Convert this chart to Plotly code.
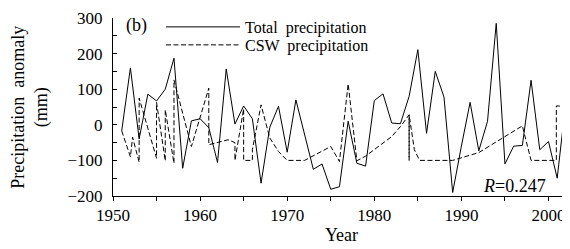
import plotly.graph_objects as go

years = [1951, 1952, 1953, 1954, 1955, 1956, 1957, 1958, 1959, 1960,
         1961, 1962, 1963, 1964, 1965, 1966, 1967, 1968, 1969, 1970,
         1971, 1972, 1973, 1974, 1975, 1976, 1977, 1978, 1979, 1980,
         1981, 1982, 1983, 1984, 1985, 1986, 1987, 1988, 1989, 1990,
         1991, 1992, 1993, 1994, 1995, 1996, 1997, 1998, 1999, 2000,
         2001, 2002]
total_precip = [-17, 160, -40, 86, 67, 100, 187, -122, 11, 17,
                -8, -106, 157, 2, 53, 17, -164, -7, 52, -77,
                70, -30, -125, -110, -181, -174, 10, -108, -116, 68,
                87, 5, 3, 80, 211, -24, 150, 78, -190, -60,
                63, -73, 10, 285, -110, -60, -58, 125, -70, -47,
                -150, 66]

csw_x = [1951, 1952, 1952.25, 1953, 1953, 1955, 1955, 1956, 1956, 1957,
         1957, 1959, 1961, 1961, 1963.2, 1964, 1964, 1965, 1965, 1966,
         1966, 1967, 1968, 1969, 1970, 1972, 1975, 1976, 1977, 1978,
         1979, 1980, 1981, 1982, 1983, 1984, 1984, 1984, 1984.6, 1985.2,
         1989, 1992, 1997, 1998, 2000.9, 2000.9, 2002]
csw_precip = [-17, -90, -35, -105, 75, -94, 63, -101, 42, -108,
              126, -61, 103, -56, -42, -50, -100, 45, -100, -100,
              -70, 56, -37, -75, -100, -100, -61, -103, 115, -101,
              -88, -70, -52, -33, -5, 28, -100, 28, -70, -100,
              -100, -78, -3, -100, -100, 53, 52]

FONT = "Times New Roman, Liberation Serif, DejaVu Serif, serif"

fig = go.Figure()
fig.add_trace(go.Scatter(x=years, y=total_precip, mode="lines",
                         name="Total  precipitation", legend="legend",
                         line=dict(color="black", width=1)))
fig.add_trace(go.Scatter(x=csw_x, y=csw_precip, mode="lines",
                         name="CSW  precipitation", legend="legend2",
                         line=dict(color="black", width=1, dash="5px,2.5px")))

leg_common = dict(xanchor="left", yanchor="top", bgcolor="rgba(0,0,0,0)",
                  font=dict(size=16, family=FONT), itemwidth=74)

# page body has an 8px default margin, so the figure is 8px smaller each way
fig.update_layout(
    width=562, height=241,
    margin=dict(l=105, r=0, t=10, b=53, autoexpand=False),
    paper_bgcolor="white", plot_bgcolor="white",
    font=dict(family=FONT, size=16, color="black"),
    showlegend=True,
    legend=dict(x=0.105, y=1.045, **leg_common),
    legend2=dict(x=0.105, y=0.944, **leg_common),
    xaxis=dict(range=[1950, 2002.47], showgrid=False, zeroline=False,
               automargin=False,
               showline=True, linecolor="black", linewidth=1,
               ticks="outside", ticklen=4, tickcolor="black",
               dtick=10, tick0=1950,
               minor=dict(dtick=5, ticks="outside", ticklen=4, tickcolor="black"),
               tickfont=dict(size=17, family=FONT),
               title=dict(text="Year", font=dict(size=18, family=FONT), standoff=2)),
    yaxis=dict(range=[-200, 300], showgrid=False, zeroline=False,
               automargin=False,
               showline=True, linecolor="black", linewidth=1,
               ticks="inside", ticklen=4, tickcolor="black",
               dtick=100, tick0=0,
               minor=dict(dtick=50, ticks="inside", ticklen=4, tickcolor="black"),
               tickfont=dict(size=17, family=FONT),
               ticklabelstandoff=6),
)

fig.add_annotation(text="Precipitation  anomaly<br>(mm)", textangle=-90,
                   xref="paper", yref="paper", x=-0.182, y=0.5,
                   xanchor="center", yanchor="middle", showarrow=False,
                   font=dict(size=18, family=FONT))
fig.add_annotation(text="(b)", xref="paper", yref="paper", x=0.024, y=1.03,
                   xanchor="left", yanchor="top", showarrow=False,
                   font=dict(size=18, family=FONT))
fig.add_annotation(text="<i>R</i>=0.247", xref="paper", yref="paper", x=0.952, y=-0.01,
                   xanchor="right", yanchor="bottom", showarrow=False,
                   font=dict(size=18, family=FONT))

fig.write_html("out.html")
